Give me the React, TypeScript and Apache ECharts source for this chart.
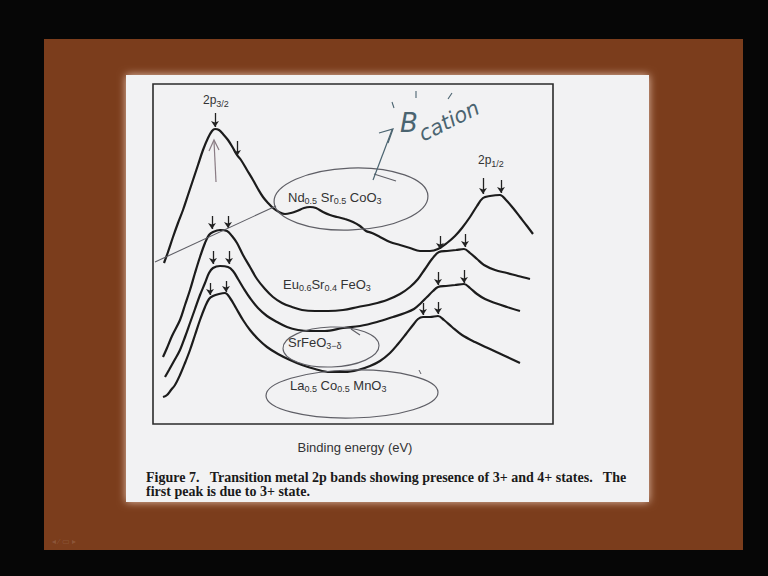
import React, { useEffect, useRef } from "react";
import * as echarts from "echarts";

// Spectra: [channel, intensity (a.u.)] — channel runs left→right across the frame
const ndCurve: [number, number][] = [
  [11, 161], [15, 172], [20, 187], [25, 201], [30, 214], [35, 229], [40, 244], [45, 259],
  [50, 274], [55, 286], [59, 293], [62, 295], [66, 294], [70, 290], [75, 284], [80, 276],
  [84, 269], [88, 264], [94, 254], [100, 244], [105, 235], [110, 227], [115, 221], [120, 216],
  [126, 212], [132, 210], [138, 211], [144, 213], [151, 216], [157, 217], [163, 216], [170, 212],
  [177, 209], [184, 207], [192, 205], [200, 202], [207, 198], [213, 193], [219, 191], [227, 187],
  [237, 182], [247, 179], [257, 176], [267, 173], [277, 173], [285, 175], [294, 181], [302, 188],
  [309, 196], [317, 207], [324, 218], [330, 226], [337, 228], [347, 229], [353, 224], [360, 216],
  [367, 207], [374, 198], [380, 190],
];
const euCurve: [number, number][] = [
  [10, 67], [14, 76], [19, 88], [27, 104], [32, 119], [37, 134], [42, 151], [47, 167],
  [52, 181], [56, 189], [60, 192], [67, 194], [74, 193], [79, 188], [84, 181], [90, 169],
  [97, 157], [104, 145], [112, 135], [120, 127], [129, 121], [139, 117], [149, 114], [162, 113],
  [175, 113], [190, 114], [205, 117], [220, 120], [234, 124], [247, 130], [257, 137], [265, 145],
  [272, 155], [279, 165], [286, 172], [294, 173], [303, 174], [311, 175], [317, 171], [324, 165],
  [331, 159], [342, 154], [354, 151], [365, 148], [377, 145],
];
const srFeCurve: [number, number][] = [
  [12, 47], [16, 54], [21, 63], [27, 74], [32, 87], [37, 101], [42, 115], [47, 129],
  [52, 141], [56, 151], [60, 156], [67, 158], [75, 157], [80, 153], [85, 145], [91, 135],
  [97, 126], [105, 116], [114, 108], [124, 102], [134, 97], [145, 94], [157, 93], [172, 93],
  [190, 96], [207, 98], [224, 102], [240, 107], [252, 111], [261, 115], [268, 121], [274, 127],
  [280, 133], [285, 137], [293, 138], [302, 139], [311, 140], [317, 136], [324, 130], [332, 125],
  [342, 121], [354, 117], [367, 113],
];
const laCurve: [number, number][] = [
  [10, 27], [14, 29], [18, 34], [22, 39], [27, 49], [32, 61], [37, 74], [42, 89],
  [47, 104], [52, 117], [56, 125], [60, 128], [66, 130], [72, 131], [77, 126], [83, 116],
  [90, 104], [97, 94], [105, 85], [114, 77], [125, 70], [137, 64], [149, 59], [162, 55],
  [177, 52], [192, 52], [205, 54], [217, 58], [227, 63], [237, 71], [245, 80], [253, 90],
  [260, 99], [265, 105], [270, 107], [277, 107], [285, 108], [291, 104], [299, 97], [309, 89],
  [322, 82], [337, 75], [352, 68], [367, 61],
];

// Peak markers: [channel, arrow top, arrow tip]
const ndArrows: [number, number, number][] = [[62, 311, 297], [84, 283, 268], [330, 246, 230], [348, 244, 231]];
const euArrows: [number, number, number][] = [[59, 208, 195], [75, 208, 196], [287, 188, 175], [312, 190, 177]];
const srFeArrows: [number, number, number][] = [[60, 173, 160], [76, 173, 160], [285, 152, 139], [311, 154, 141]];
const laArrows: [number, number, number][] = [[57, 141, 129], [73, 143, 132], [270, 121, 109], [285, 122, 110]];

const sampleLabels = [
  "Nd{s|0.5} Sr{s|0.5} CoO{s|3}",
  "Eu{s|0.6}Sr{s|0.4} FeO{s|3}",
  "SrFeO{s|3−δ}",
  "La{s|0.5} Co{s|0.5} MnO{s|3}",
];
const peakLabels = ["2p{s|3/2}", "2p{s|1/2}"];
const axisTitle = "Binding energy (eV)";
const captionLine1 = "Figure 7.   Transition metal 2p bands showing presence of 3+ and 4+ states.   The";
const captionLine2 = "first peak is due to 3+ state.";

const INK = "#1c1c1c";
const PEN = "#5f5f66";
const PEN2 = "#4b6470";

function curveSeries(name: string, data: [number, number][], arrows: [number, number, number][]) {
  return {
    name,
    type: "line",
    data,
    smooth: 0.35,
    symbol: "none",
    z: 3,
    lineStyle: { color: INK, width: 2.2 },
    emphasis: { disabled: true },
    markLine: {
      silent: true,
      symbol: ["none", "arrow"],
      symbolSize: 6,
      label: { show: false },
      lineStyle: { color: "#222", width: 1.3, type: "solid" },
      emphasis: { disabled: true },
      data: arrows.map(([x, y0, y1]) => [{ coord: [x, y0] }, { coord: [x, y1] }]),
    },
  };
}

const subStyle = { s: { fontSize: 9, padding: [8, 0, 0, 0], fill: "#333" } };

function label(text: string, x: number, y: number, size = 12) {
  return {
    type: "text",
    x,
    y,
    z: 10,
    style: {
      text,
      fontFamily: "Liberation Sans",
      fontSize: size,
      fill: "#333",
      textVerticalAlign: "middle",
      rich: subStyle,
    },
  };
}

function captionText(text: string, y: number) {
  return {
    type: "text",
    z: 10,
    x: 146,
    y,
    style: {
      text,
      fontFamily: "Liberation Serif",
      fontSize: 14,
      fontWeight: "bold",
      fill: "#1a1a1a",
      textVerticalAlign: "middle",
    },
  };
}

export default function App() {
  const ref = useRef<HTMLDivElement>(null);

  useEffect(() => {
    if (!ref.current) return;
    const chart = echarts.init(ref.current, undefined, { renderer: "svg" });
    const option = {
      animation: false,
      backgroundColor: "#060606",
      grid: {
        left: 153,
        top: 84,
        width: 400,
        height: 340,
        show: true,
        borderColor: "#2b2b2b",
        borderWidth: 1.6,
        backgroundColor: "transparent",
        z: 1,
      },
      xAxis: { type: "value", min: 0, max: 400, show: false },
      yAxis: { type: "value", min: 0, max: 340, show: false },
      series: [
        curveSeries("Nd0.5Sr0.5CoO3", ndCurve, ndArrows),
        curveSeries("Eu0.6Sr0.4FeO3", euCurve, euArrows),
        curveSeries("SrFeO3-δ", srFeCurve, srFeArrows),
        curveSeries("La0.5Co0.5MnO3", laCurve, laArrows),
      ],
      graphic: [
        // slide and printed page
        { type: "rect", z: 0, shape: { x: 44, y: 39, width: 699, height: 511 }, style: { fill: "#7b3d1c" } },
        {
          type: "rect",
          z: 0,
          shape: { x: 126, y: 75, width: 523, height: 427 },
          style: { fill: "#f2f2f3", shadowBlur: 8, shadowColor: "rgba(255,225,210,0.8)" },
        },
        { type: "text", z: 1, x: 52, y: 537, style: { text: "◂ ⁄ ▭ ▸", fontSize: 8, fill: "rgba(255,255,255,0.14)" } },

        // printed labels
        label(peakLabels[0], 203, 100, 12),
        label(peakLabels[1], 478, 160, 12),
        label(sampleLabels[0], 288, 197, 13),
        label(sampleLabels[1], 283, 284, 13),
        label(sampleLabels[2], 288, 342, 13),
        label(sampleLabels[3], 290, 385, 13),
        {
          type: "text",
          z: 10,
          x: 355,
          y: 447,
          style: {
            text: axisTitle,
            fontFamily: "Liberation Sans",
            fontSize: 13,
            fill: "#333",
            textAlign: "center",
            textVerticalAlign: "middle",
          },
        },
        captionText(captionLine1, 477),
        captionText(captionLine2, 491),

        // pen marks
        { type: "line", z: 9, shape: { x1: 155, y1: 262, x2: 276, y2: 206 }, style: { stroke: PEN, lineWidth: 1.1 } },
        { type: "line", z: 9, shape: { x1: 216, y1: 182, x2: 214, y2: 141 }, style: { stroke: "#8a7c84", lineWidth: 1.2 } },
        { type: "polyline", z: 9, shape: { points: [[209, 151], [214, 140], [219, 150]] }, style: { stroke: "#8a7c84", lineWidth: 1.2, fill: null } },
        {
          type: "ellipse",
          z: 9,
          x: 351,
          y: 199,
          rotation: 0.04,
          shape: { cx: 0, cy: 0, rx: 77, ry: 31 },
          style: { stroke: PEN, lineWidth: 1.2, fill: null },
        },
        { type: "line", z: 9, shape: { x1: 374, y1: 174, x2: 396, y2: 181 }, style: { stroke: PEN, lineWidth: 1.1 } },
        { type: "line", z: 9, shape: { x1: 373, y1: 180, x2: 392, y2: 130 }, style: { stroke: PEN2, lineWidth: 1.2 } },
        { type: "polyline", z: 9, shape: { points: [[379, 133], [393, 129], [388, 143]] }, style: { stroke: PEN2, lineWidth: 1.2, fill: null } },
        {
          type: "text",
          z: 10,
          x: 400,
          y: 123,
          style: { text: "B", fontFamily: "DejaVu Sans", fontStyle: "italic", fontWeight: "lighter", fontSize: 26, fill: PEN2, textVerticalAlign: "middle" },
        },
        {
          type: "text",
          z: 10,
          x: 449,
          y: 121,
          rotation: 0.47,
          style: { text: "cation", fontFamily: "DejaVu Sans", fontStyle: "italic", fontWeight: "lighter", fontSize: 21, fill: PEN2, textAlign: "center", textVerticalAlign: "middle" },
        },
        { type: "line", z: 9, shape: { x1: 392, y1: 102, x2: 394, y2: 108 }, style: { stroke: PEN2, lineWidth: 1.1 } },
        { type: "line", z: 9, shape: { x1: 416, y1: 91, x2: 416, y2: 98 }, style: { stroke: PEN2, lineWidth: 1.1 } },
        { type: "line", z: 9, shape: { x1: 452, y1: 93, x2: 448, y2: 99 }, style: { stroke: PEN2, lineWidth: 1.1 } },
        {
          type: "ellipse",
          z: 9,
          x: 331,
          y: 347,
          rotation: 0.03,
          shape: { cx: 0, cy: 0, rx: 48, ry: 20 },
          style: { stroke: PEN, lineWidth: 1.1, fill: null },
        },
        { type: "line", z: 9, shape: { x1: 351, y1: 329, x2: 360, y2: 335 }, style: { stroke: PEN, lineWidth: 1.1 } },
        {
          type: "ellipse",
          z: 9,
          x: 352,
          y: 394,
          rotation: 0.02,
          shape: { cx: 0, cy: 0, rx: 86, ry: 24 },
          style: { stroke: PEN, lineWidth: 1.2, fill: null },
        },
        { type: "line", z: 9, shape: { x1: 419, y1: 370, x2: 421, y2: 374 }, style: { stroke: PEN, lineWidth: 1 } },
      ],
    };
    chart.setOption(option as any);
    return () => chart.dispose();
  }, []);

  return (
    <div
      ref={ref}
      style={{ position: "fixed", left: 0, top: 0, width: 768, height: 576, background: "#060606" }}
    />
  );
}
